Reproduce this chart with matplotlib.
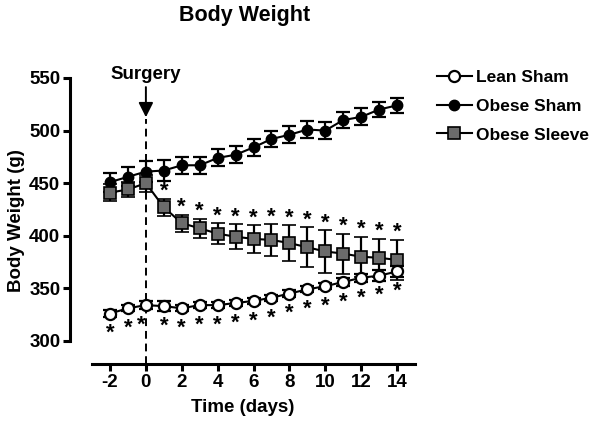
import matplotlib
matplotlib.use("Agg")
import matplotlib.pyplot as plt
from matplotlib.lines import Line2D

plt.rcParams['font.family'] = ['Liberation Sans', 'DejaVu Sans']
plt.rcParams['font.weight'] = 'bold'
plt.rcParams['axes.unicode_minus'] = False

# Data
days = [-2, -1, 0, 1, 2, 3, 4, 5, 6, 7, 8, 9, 10, 11, 12, 13, 14]

lean_sham = [326, 331, 334, 333, 331, 334, 334, 336, 338, 341, 345, 349, 352, 356, 360, 362, 366]
lean_sem = [3, 3, 4, 5, 3, 3, 3, 3, 3, 3, 3, 3, 3, 4, 4, 5, 5]

obese_sham = [451, 456, 461, 462, 467, 467, 474, 477, 484, 492, 496, 501, 500, 510, 513, 520, 524]
obese_sem = [9, 9, 10, 10, 8, 8, 8, 8, 8, 8, 8, 8, 8, 8, 8, 7, 7]

sleeve = [441, 444, 450, 427, 412, 407, 402, 399, 397, 396, 393, 389, 385, 383, 380, 379, 377]
sleeve_sem = [8, 7, 8, 8, 8, 9, 10, 12, 13, 15, 17, 19, 20, 19, 19, 18, 19]

# significance markers (day 0 star sits just left of the surgery line)
lean_star_days = [-2, -1, 0, 1, 2, 3, 4, 5, 6, 7, 8, 9, 10, 11, 12, 13, 14]
sleeve_star_days = [1, 2, 3, 4, 5, 6, 7, 8, 9, 10, 11, 12, 13, 14]

FS = 13.5

fig = plt.figure(figsize=(6, 4.3), dpi=100)
ax = fig.add_axes([70 / 600, 1 - 364 / 430, 345 / 600, (364 - 78) / 430])

err_kw = dict(capsize=5, capthick=1.6, elinewidth=1.6, ecolor='black', color='black', lw=1.5)

ax.errorbar(days, obese_sham, yerr=obese_sem, marker='o', ms=7.5, mfc='black', mec='black',
            zorder=3, **err_kw)
ax.errorbar(days, sleeve, yerr=sleeve_sem, marker='s', ms=8.5, mfc='#6b6b6b', mec='black',
            mew=1.2, zorder=4, **err_kw)
ax.errorbar(days, lean_sham, yerr=lean_sem, marker='o', ms=8, mfc='white', mec='black',
            mew=1.6, zorder=5, **err_kw)

# asterisks
for d in lean_star_days:
    i = days.index(d)
    x = d - 0.25 if d == 0 else d
    ax.text(x, lean_sham[i] - 19, '*', ha='center', va='center', fontsize=16)
for d in sleeve_star_days:
    i = days.index(d)
    ax.text(d, sleeve[i] + sleeve_sem[i] + 7, '*', ha='center', va='center', fontsize=16)

# surgery marker
ax.plot([0, 0], [278, 511], ls=(0, (4, 2.5)), color='black', lw=1.4, zorder=2)
ax.annotate('', xy=(0, 510), xytext=(0, 544),
            arrowprops=dict(arrowstyle='-|>', color='black', lw=1.4, mutation_scale=22),
            annotation_clip=False)
ax.text(0, 553, 'Surgery', ha='center', va='center', fontsize=FS, fontweight='bold', clip_on=False)

ax.set_xlim(-4.23, 15)
ax.set_ylim(278, 550)
ax.set_xticks([-2, 0, 2, 4, 6, 8, 10, 12, 14])
ax.set_yticks([300, 350, 400, 450, 500, 550])
ax.spines['top'].set_visible(False)
ax.spines['right'].set_visible(False)
ax.spines['left'].set_bounds(300, 550)
ax.spines['bottom'].set_bounds(-3, 15)
for s in ['left', 'bottom']:
    ax.spines[s].set_linewidth(2.2)
ax.tick_params(width=2.2, length=5, labelsize=FS, pad=2)

ax.set_xlabel('Time (days)', fontsize=FS, fontweight='bold', labelpad=6)
ax.set_ylabel('Body Weight (g)', fontsize=FS, fontweight='bold', labelpad=3)
fig.text(245 / 600, 1 - 15 / 430, 'Body Weight', ha='center', va='center', fontsize=15.5, fontweight='bold')

handles = [
    Line2D([], [], color='black', lw=1.5, marker='o', ms=8, mfc='white', mec='black', mew=1.6),
    Line2D([], [], color='black', lw=1.5, marker='o', ms=7.5, mfc='black', mec='black'),
    Line2D([], [], color='black', lw=1.5, marker='s', ms=8.5, mfc='#6b6b6b', mec='black', mew=1.2),
]
fig.legend(handles, ['Lean Sham', 'Obese Sham', 'Obese Sleeve'],
           loc='upper left', bbox_to_anchor=(437 / 600, 1 - 70 / 430),
           frameon=False, fontsize=12.5, handlelength=2.0, handletextpad=0.25,
           labelspacing=0.78, borderaxespad=0, borderpad=0)

fig.savefig('out.png', dpi=100)
